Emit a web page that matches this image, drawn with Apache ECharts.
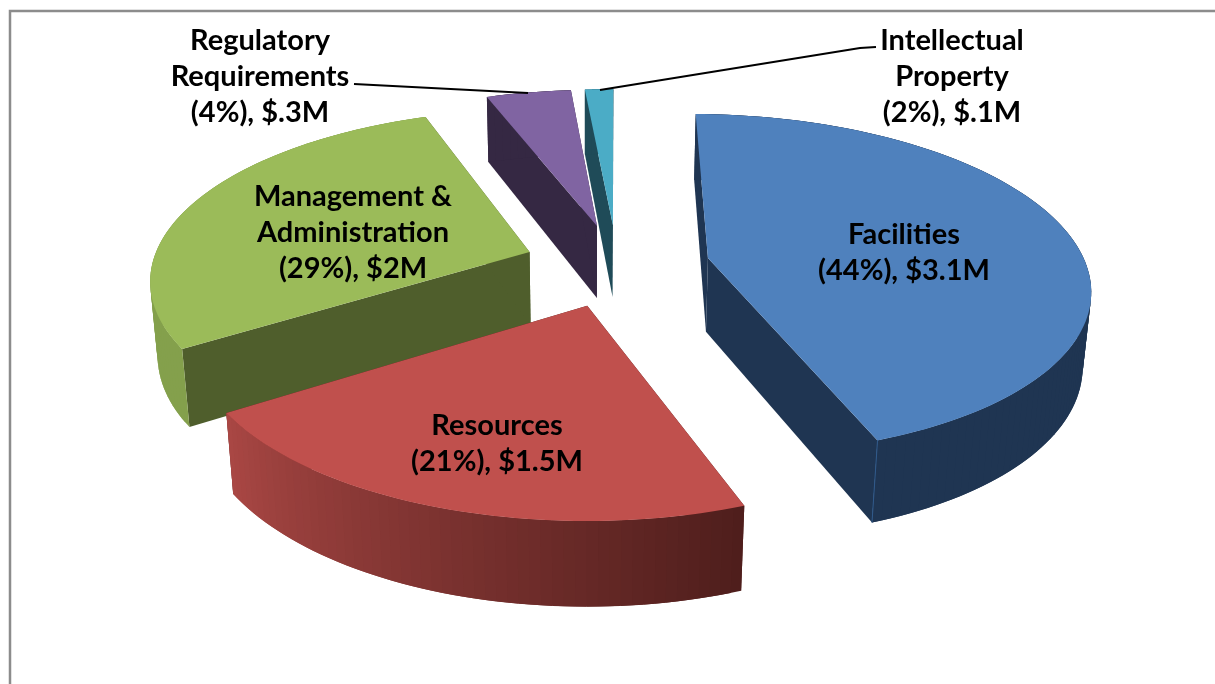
<!DOCTYPE html>
<html>
<head>
<meta charset="utf-8">
<style>html,body{margin:0;padding:0;background:#fff}#main{width:1215px;height:684px}</style>
<script src="https://cdn.jsdelivr.net/npm/echarts@6/dist/echarts.min.js"></script>
</head>
<body>
<div id="main"></div>
<script>
// chart data, clockwise from 12 o'clock
var values = [3.1, 1.5, 2, 0.3, 0.1];
var shares = [44, 21, 29, 4, 2];
var amounts = ['$3.1M', '$1.5M', '$2M', '$.3M', '$.1M'];

// slice styling
var topColors = ['#4f81bd', '#c0504d', '#9bbb59', '#8064a2', '#4bacc6'];
var cutColors = ['#1f3552', '#4f1e1c', '#4f5e2c', '#352843', '#1f4b58'];
var wallFrom = ['#1f3552', '#a94744', '#84a04c', '#352843', '#1f4b58'];
var wallTo = ['#1f3552', '#4f1e1c', '#84a04c', '#352843', '#1f4b58'];

// label layout: centre x, first line centre y, lines
var labelLayout = [
    {x: 904, y: 235, lines: ['Facilities']},
    {x: 497, y: 426, lines: ['Resources']},
    {x: 353, y: 197, lines: ['Management &', 'Administration']},
    {x: 260, y: 41, lines: ['Regulatory', 'Requirements']},
    {x: 952, y: 41, lines: ['Intellectual', 'Property']}
];

// fake 3d camera
var pie = {cx: 617, cy: 265, vx: 590, r: 378, depth: 84, explode: 93, sinE: 0.445, cam: 2200, rotate: 0.6};
pie.cosE = Math.sqrt(1 - pie.sinE * pie.sinE);

function project(x, y, z) {
    var w = y * pie.cosE + z * pie.sinE;
    var u = z * pie.cosE - y * pie.sinE;
    var s = pie.cam / (pie.cam - w);
    return [pie.vx + (pie.cx - pie.vx + x) * s, pie.cy - u * s];
}

var total = values.reduce(function (a, b) { return a + b; }, 0);
var angles = [];
var acc = 0;
var start = pie.rotate * Math.PI / 180;
for (var i = 0; i < values.length; i++) {
    angles.push([start + acc / total * 2 * Math.PI, start + (acc + values[i]) / total * 2 * Math.PI]);
    acc += values[i];
}

function arcPoints(i, z) {
    var a0 = angles[i][0], a1 = angles[i][1];
    var mid = (a0 + a1) / 2;
    var ox = pie.explode * Math.sin(mid), oy = -pie.explode * Math.cos(mid);
    var pts = [];
    var steps = Math.max(4, Math.round((a1 - a0) * 40));
    for (var k = 0; k <= steps; k++) {
        var a = a0 + (a1 - a0) * k / steps;
        pts.push(project(ox + pie.r * Math.sin(a), oy - pie.r * Math.cos(a), z));
    }
    return {apex: project(ox, oy, z), arc: pts};
}

function poly(points, fill) {
    return {type: 'polygon', shape: {points: points}, style: {fill: fill, stroke: 'none'}};
}

function renderSlice(params, api) {
    var i = api.value(0);
    var t = arcPoints(i, 0);
    var b = arcPoints(i, -pie.depth);
    var last = t.arc.length - 1;
    var children = [
        poly([t.apex, t.arc[0], b.arc[0], b.apex], cutColors[i]),
        poly([t.apex, t.arc[last], b.arc[last], b.apex], cutColors[i])
    ];
    // outer wall in overlapping strips so the silhouette stays straight where the rim folds back
    for (var k = 0; k < last; k++) {
        var e = Math.min(k + 2, last);
        // resources runs right to left, so its light end is the last strip
        var f = i === 1 ? k / (last - 1) : 0;
        children.push(poly([t.arc[k], t.arc[e], b.arc[e], b.arc[k]],
            echarts.color.lerp(f, [wallTo[i], wallFrom[i]])));
    }
    children.push(poly([t.apex].concat(t.arc), topColors[i]));
    if (i === 0) {
        // lighter seam where the facilities cut meets its rim
        children.push({type: 'polyline', shape: {points: [t.arc[last], b.arc[last]]}, style: {stroke: '#2f5a8c', lineWidth: 1, fill: 'none'}});
    }
    return {type: 'group', children: children};
}

var labelFont = 'bold 29px Lato';
var graphics = [
    {type: 'polyline', shape: {points: [[10, 684], [10, 11], [1215, 11]]}, style: {stroke: '#8c8c8c', lineWidth: 2.5, fill: 'none'}},
    {type: 'polyline', z: 5, shape: {points: [[354, 84], [528, 93]]}, style: {stroke: '#000', lineWidth: 2, fill: 'none'}},
    {type: 'polyline', z: 5, shape: {points: [[876, 47], [860, 48], [600, 90]]}, style: {stroke: '#000', lineWidth: 2, fill: 'none'}}
];
labelLayout.forEach(function (l, i) {
    var lines = l.lines.concat(['(' + shares[i] + '%), ' + amounts[i]]);
    lines.forEach(function (txt, k) {
        graphics.push({
            type: 'text', z: 10, x: l.x, y: l.y + k * 36,
            style: {text: txt, font: labelFont, fill: '#000', align: 'center', verticalAlign: 'middle'}
        });
    });
});

var myChart = echarts.init(document.getElementById('main'));
var option = {
    animation: false,
    backgroundColor: '#fff',
    graphic: graphics,
    series: [{
        type: 'custom',
        coordinateSystem: 'none',
        renderItem: renderSlice,
        // paint order, back to front
        data: [[3], [4], [2], [0], [1]]
    }]
};
myChart.setOption(option);
</script>
</body>
</html>
